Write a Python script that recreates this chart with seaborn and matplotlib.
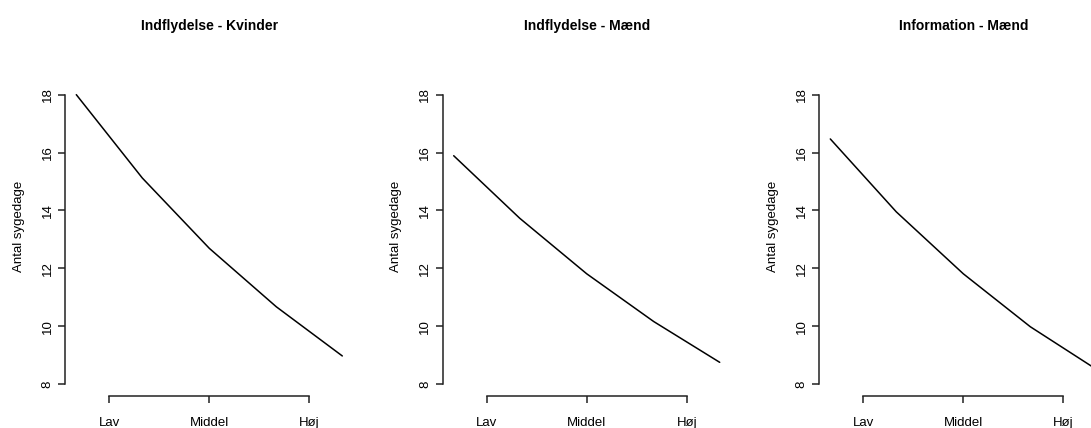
import pandas as pd
import seaborn as sns
import matplotlib
matplotlib.use("Agg")
import matplotlib.pyplot as plt

# data
niveau = [0.67, 1.33, 2.0, 2.67, 3.33]
kvinder_indfl = [18.0, 15.12, 12.69, 10.67, 8.97]
maend_indfl = [15.89, 13.73, 11.81, 10.16, 8.75]
maend_info = [16.47, 13.95, 11.81, 9.98, 8.51]

titler = ["Indflydelse - Kvinder", "Indflydelse - Mænd", "Information - Mænd"]
serier = [kvinder_indfl, maend_indfl, maend_info]
x_ticks = [1, 2, 3]
x_labels = ["Lav", "Middel", "Høj"]
y_ticks = [8, 10, 12, 14, 16, 18]

sns.set_style("white")
plt.rcParams['font.family'] = ['Liberation Sans', 'DejaVu Sans']
plt.rcParams['text.color'] = 'black'
plt.rcParams['xtick.color'] = 'black'
plt.rcParams['ytick.color'] = 'black'
plt.rcParams['axes.labelcolor'] = 'black'

W, H = 1091, 428
fig = plt.figure(figsize=(W / 100, H / 100), dpi=100)

venstre_px = [65.3, 442.7, 819.3]
bredde_px = 288.0
top_px, bund_px = 83.1, 395.6

for i in range(3):
    ax = fig.add_axes([venstre_px[i] / W, (H - bund_px) / H,
                       bredde_px / W, (bund_px - top_px) / H])
    df = pd.DataFrame({'niveau': niveau, 'sygedage': serier[i]})
    sns.lineplot(data=df, x='niveau', y='sygedage', ax=ax, color='black', linewidth=1.1)
    ax.set_xlim(0.56, 3.44)
    ax.set_ylim(7.6, 18.4)
    ax.set_xticks(x_ticks)
    ax.set_xticklabels(x_labels)
    ax.set_yticks(y_ticks)
    ax.set_yticklabels([str(v) for v in y_ticks])
    for s in ['top', 'right']:
        ax.spines[s].set_visible(False)
    ax.spines['left'].set_bounds(8, 18)
    ax.spines['bottom'].set_bounds(1, 3)
    for s in ['left', 'bottom']:
        ax.spines[s].set_color('#222222')
        ax.spines[s].set_linewidth(1.1)
    ax.tick_params(axis='both', direction='out', length=5, width=1.1, color='#222222',
                   labelsize=9.5, left=True, bottom=True)
    ax.tick_params(axis='x', pad=10.5)
    ax.tick_params(axis='y', pad=3.5, labelrotation=90)
    plt.setp(ax.get_yticklabels(), va='center')
    ax.set_xlabel('')
    ax.set_ylabel('Antal sygedage', fontsize=9.5, va='center')
    ax.yaxis.set_label_coords(-0.161, 0.543)
    ax.set_title(titler[i], fontsize=10, fontweight='bold', pad=38.5)
    ax.grid(False)

fig.savefig('out.png', dpi=100)
